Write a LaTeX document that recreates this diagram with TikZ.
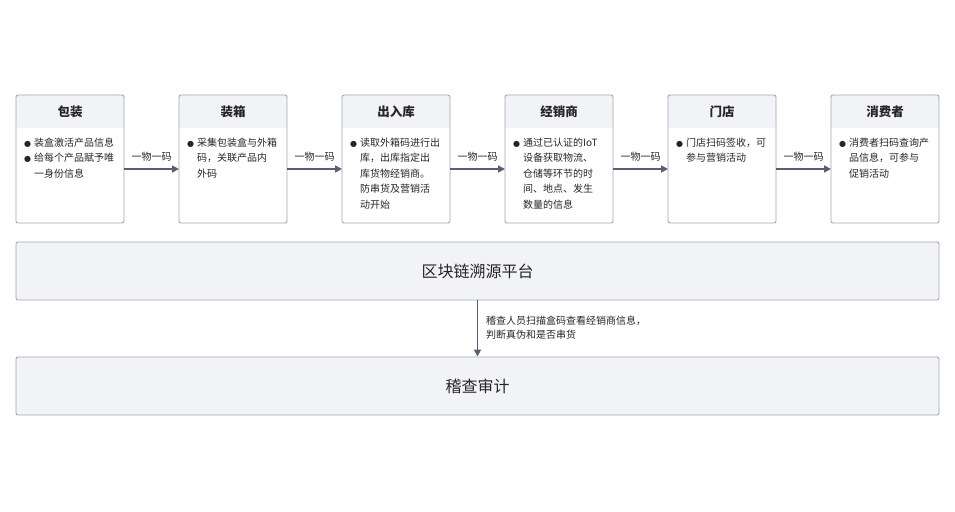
\documentclass[tikz,border=0pt]{standalone}
\usepackage{fontspec}
\setmainfont{Noto Sans CJK SC}
\newfontfamily\djvfont{DejaVu Sans}
\usetikzlibrary{arrows.meta}
\definecolor{bd}{HTML}{A3A6BA}
\definecolor{hd}{HTML}{F2F3F7}
\definecolor{ar}{HTML}{5A5E72}
\newcommand{\bu}{\makebox[10pt][l]{{\djvfont\fontsize{8}{8}\selectfont ●}}}
\newcommand{\ind}{\hspace*{10pt}}
\tikzset{
 card/.style={draw=bd,line width=0.9pt,rounded corners=2pt},
 body/.style={anchor=north west,align=left,font=\fontsize{10}{15.5}\selectfont,text=black!85,inner sep=0pt},
 head/.style={font=\fontsize{12.5}{14}\selectfont\bfseries,text=black!85},
 conn/.style={draw=ar,line width=1.6pt,-{Triangle[length=7pt,width=7pt]}},
 lab/.style={font=\fontsize{10}{12}\selectfont,text=black!85,inner sep=1pt}
}
\begin{document}
\begin{tikzpicture}[x=1pt,y=-1pt]
\useasboundingbox[fill=white] (0,0) rectangle (955,511);
\foreach \i/\x/\t in {1/16/包装,2/179/装箱,3/342/出入库,4/505/经销商,5/668/门店,6/831/消费者}{
  \fill[hd,rounded corners=2pt] (\x,95) rectangle (\x+108,128);
  \draw[card] (\x,95) rectangle (\x+108,223);
  \node[head] (h\i) at (\x+54,111.5) {\t};
  \coordinate (L\i) at (\x,169);
  \coordinate (R\i) at (\x+108,169);
}
\node[body] (b1) at (24,137.5) {\bu 装盒激活产品信息\\\bu 给每个产品赋予唯\\\ind 一身份信息};
\node[body] (b2) at (187,137.5) {\bu 采集包装盒与外箱\\\ind 码，关联产品内\\\ind 外码};
\node[body] (b3) at (350,137.5) {\bu 读取外箱码进行出\\\ind 库，出库指定出\\\ind 库货物经销商。\\\ind 防串货及营销活\\\ind 动开始};
\node[body] (b4) at (513,137.5) {\bu 通过已认证的IoT\\\ind 设备获取物流、\\\ind 仓储等环节的时\\\ind 间、地点、发生\\\ind 数量的信息};
\node[body] (b5) at (676,137.5) {\bu 门店扫码签收，可\\\ind 参与营销活动};
\node[body] (b6) at (839,137.5) {\bu 消费者扫码查询产\\\ind 品信息，可参与\\\ind 促销活动};
\foreach \a/\b in {1/2,2/3,3/4,4/5,5/6}{
  \draw[conn] (R\a) -- node[lab,above=6pt] {一物一码} (L\b);
}
\node[card,minimum width=923pt,minimum height=58pt,fill=hd,font=\fontsize{16}{18}\selectfont,text=black!85] (plat) at (477.5,271) {区块链溯源平台};
\node[card,minimum width=923pt,minimum height=58pt,fill=hd,font=\fontsize{16}{18}\selectfont,text=black!85] (audit) at (477.5,386) {稽查审计};
\draw[conn] (plat.south) -- (audit.north);
\node[anchor=west,align=left,font=\fontsize{10}{14}\selectfont,text=black!85,inner sep=0pt] (al) at (486,328) {稽查人员扫描盒码查看经销商信息，\\判断真伪和是否串货};
\end{tikzpicture}
\end{document}
